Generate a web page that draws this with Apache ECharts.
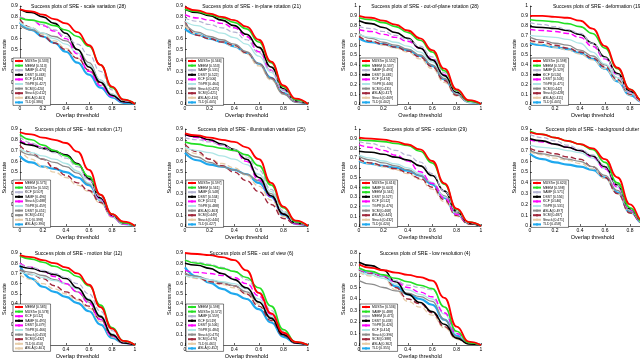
<!DOCTYPE html>
<html>
<head>
<meta charset="utf-8">
<script src="https://cdn.jsdelivr.net/npm/echarts@6/dist/echarts.min.js"></script>
<style>
  html, body { margin: 0; background: #fff; overflow: hidden; }
  #chart { width: 660px; height: 360px; }
</style>
</head>
<body>
<div id="chart"></div>
<script>
// overlap thresholds the success rates were sampled at
const thresholds = [0, 0.1, 0.2, 0.3, 0.4, 0.5, 0.6, 0.7, 0.8, 0.9, 1];
const xTicks = ["0", "0.2", "0.4", "0.6", "0.8", "1"];

const titles = [
  "Success plots of SRE - scale variation (28)",
  "Success plots of SRE - in-plane rotation (21)",
  "Success plots of SRE - out-of-plane rotation (28)",
  "Success plots of SRE - deformation (19)",
  "Success plots of SRE - fast motion (17)",
  "Success plots of SRE - illumination variation (25)",
  "Success plots of SRE - occlusion (29)",
  "Success plots of SRE - background clutter (21)",
  "Success plots of SRE - motion blur (12)",
  "Success plots of SRE - out of view (6)",
  "Success plots of SRE - low resolution (4)"
];
const yMaxes = [0.9, 0.9, 1, 1, 0.9, 0.9, 1, 0.9, 0.9, 0.9, 0.8];

// rows are in legend order (rank 1..10)
const scaleVariation = [
  [0.87, 0.85, 0.82, 0.78, 0.74, 0.66, 0.54, 0.36, 0.16, 0.04, 0],
  [0.79, 0.77, 0.75, 0.72, 0.68, 0.62, 0.53, 0.36, 0.15, 0.04, 0],
  [0.80, 0.77, 0.73, 0.68, 0.62, 0.55, 0.45, 0.30, 0.13, 0.03, 0],
  [0.87, 0.84, 0.80, 0.74, 0.65, 0.50, 0.34, 0.20, 0.08, 0.02, 0],
  [0.80, 0.77, 0.72, 0.67, 0.60, 0.46, 0.30, 0.17, 0.07, 0.02, 0],
  [0.75, 0.70, 0.65, 0.60, 0.55, 0.47, 0.36, 0.22, 0.09, 0.02, 0],
  [0.72, 0.68, 0.65, 0.62, 0.58, 0.50, 0.38, 0.22, 0.09, 0.02, 0],
  [0.78, 0.70, 0.62, 0.56, 0.50, 0.42, 0.31, 0.19, 0.08, 0.02, 0],
  [0.76, 0.70, 0.64, 0.58, 0.51, 0.42, 0.31, 0.18, 0.07, 0.02, 0],
  [0.75, 0.68, 0.62, 0.56, 0.48, 0.38, 0.27, 0.15, 0.06, 0.01, 0]
];
const inPlaneRotation = [
  [0.89, 0.86, 0.83, 0.80, 0.77, 0.71, 0.59, 0.39, 0.17, 0.05, 0],
  [0.87, 0.85, 0.82, 0.79, 0.75, 0.69, 0.57, 0.38, 0.16, 0.04, 0],
  [0.79, 0.76, 0.73, 0.70, 0.66, 0.59, 0.47, 0.31, 0.13, 0.03, 0],
  [0.87, 0.84, 0.81, 0.77, 0.72, 0.64, 0.52, 0.34, 0.14, 0.03, 0],
  [0.82, 0.79, 0.77, 0.74, 0.70, 0.62, 0.48, 0.31, 0.13, 0.03, 0],
  [0.76, 0.72, 0.68, 0.65, 0.61, 0.55, 0.44, 0.29, 0.12, 0.03, 0],
  [0.74, 0.66, 0.62, 0.59, 0.55, 0.48, 0.37, 0.23, 0.09, 0.02, 0],
  [0.76, 0.63, 0.60, 0.57, 0.54, 0.47, 0.37, 0.24, 0.10, 0.02, 0],
  [0.72, 0.64, 0.60, 0.57, 0.53, 0.46, 0.35, 0.22, 0.09, 0.02, 0],
  [0.69, 0.64, 0.60, 0.57, 0.53, 0.47, 0.37, 0.24, 0.10, 0.02, 0]
];
const outOfPlaneRotation = [
  [0.90, 0.88, 0.85, 0.81, 0.75, 0.67, 0.55, 0.36, 0.15, 0.04, 0],
  [0.88, 0.86, 0.83, 0.79, 0.73, 0.65, 0.53, 0.34, 0.14, 0.03, 0],
  [0.79, 0.77, 0.74, 0.70, 0.66, 0.59, 0.48, 0.32, 0.13, 0.03, 0],
  [0.85, 0.82, 0.78, 0.73, 0.67, 0.57, 0.45, 0.29, 0.12, 0.03, 0],
  [0.76, 0.74, 0.71, 0.68, 0.64, 0.57, 0.46, 0.30, 0.12, 0.03, 0],
  [0.71, 0.68, 0.66, 0.63, 0.59, 0.53, 0.43, 0.28, 0.11, 0.02, 0],
  [0.72, 0.67, 0.63, 0.60, 0.56, 0.50, 0.40, 0.26, 0.10, 0.02, 0],
  [0.69, 0.64, 0.61, 0.58, 0.54, 0.48, 0.38, 0.24, 0.09, 0.02, 0],
  [0.70, 0.64, 0.60, 0.57, 0.53, 0.46, 0.36, 0.22, 0.08, 0.02, 0],
  [0.67, 0.63, 0.61, 0.58, 0.55, 0.49, 0.39, 0.25, 0.10, 0.02, 0]
];
const deformation = [
  [0.90, 0.90, 0.89, 0.88, 0.85, 0.77, 0.59, 0.37, 0.15, 0.03, 0],
  [0.86, 0.85, 0.84, 0.82, 0.79, 0.72, 0.57, 0.36, 0.15, 0.03, 0],
  [0.83, 0.81, 0.79, 0.76, 0.72, 0.62, 0.47, 0.30, 0.12, 0.02, 0],
  [0.79, 0.78, 0.77, 0.75, 0.71, 0.62, 0.48, 0.31, 0.13, 0.03, 0],
  [0.76, 0.75, 0.74, 0.72, 0.68, 0.59, 0.46, 0.30, 0.12, 0.02, 0],
  [0.70, 0.69, 0.68, 0.66, 0.62, 0.53, 0.41, 0.27, 0.11, 0.02, 0],
  [0.68, 0.65, 0.62, 0.60, 0.55, 0.49, 0.40, 0.27, 0.11, 0.02, 0],
  [0.65, 0.63, 0.60, 0.57, 0.53, 0.47, 0.38, 0.25, 0.10, 0.02, 0],
  [0.64, 0.61, 0.58, 0.55, 0.51, 0.45, 0.36, 0.23, 0.09, 0.02, 0],
  [0.62, 0.60, 0.58, 0.56, 0.52, 0.46, 0.36, 0.23, 0.09, 0.02, 0]
];
const fastMotion = [
  [0.87, 0.85, 0.82, 0.80, 0.77, 0.69, 0.52, 0.29, 0.11, 0.04, 0],
  [0.85, 0.80, 0.75, 0.70, 0.65, 0.57, 0.46, 0.29, 0.11, 0.03, 0],
  [0.83, 0.77, 0.72, 0.68, 0.63, 0.55, 0.43, 0.27, 0.10, 0.03, 0],
  [0.78, 0.75, 0.72, 0.69, 0.66, 0.58, 0.44, 0.26, 0.10, 0.03, 0],
  [0.79, 0.76, 0.73, 0.70, 0.66, 0.57, 0.43, 0.25, 0.09, 0.02, 0],
  [0.72, 0.68, 0.65, 0.62, 0.58, 0.51, 0.40, 0.24, 0.09, 0.02, 0],
  [0.70, 0.66, 0.62, 0.59, 0.55, 0.49, 0.39, 0.24, 0.09, 0.02, 0],
  [0.75, 0.68, 0.62, 0.54, 0.47, 0.40, 0.33, 0.22, 0.09, 0.02, 0],
  [0.72, 0.62, 0.55, 0.50, 0.45, 0.38, 0.32, 0.21, 0.08, 0.02, 0],
  [0.65, 0.59, 0.55, 0.53, 0.50, 0.45, 0.38, 0.24, 0.09, 0.02, 0]
];
const illumination = [
  [0.86, 0.84, 0.82, 0.80, 0.78, 0.73, 0.62, 0.40, 0.18, 0.05, 0],
  [0.78, 0.76, 0.74, 0.72, 0.70, 0.66, 0.56, 0.38, 0.17, 0.04, 0],
  [0.82, 0.80, 0.78, 0.75, 0.71, 0.64, 0.52, 0.34, 0.14, 0.03, 0],
  [0.85, 0.83, 0.80, 0.76, 0.71, 0.62, 0.45, 0.28, 0.11, 0.03, 0],
  [0.85, 0.82, 0.79, 0.75, 0.70, 0.60, 0.43, 0.27, 0.11, 0.02, 0],
  [0.73, 0.70, 0.68, 0.65, 0.62, 0.57, 0.48, 0.32, 0.13, 0.03, 0],
  [0.70, 0.64, 0.59, 0.55, 0.52, 0.48, 0.42, 0.30, 0.12, 0.03, 0],
  [0.76, 0.69, 0.62, 0.56, 0.50, 0.42, 0.32, 0.20, 0.07, 0.02, 0],
  [0.72, 0.67, 0.62, 0.58, 0.54, 0.47, 0.37, 0.24, 0.09, 0.02, 0],
  [0.68, 0.61, 0.57, 0.55, 0.52, 0.48, 0.40, 0.27, 0.10, 0.02, 0]
];
const occlusion = [
  [0.91, 0.90, 0.89, 0.87, 0.84, 0.79, 0.67, 0.44, 0.18, 0.04, 0],
  [0.89, 0.88, 0.87, 0.85, 0.83, 0.77, 0.65, 0.43, 0.17, 0.04, 0],
  [0.87, 0.85, 0.82, 0.78, 0.73, 0.66, 0.54, 0.36, 0.15, 0.03, 0],
  [0.77, 0.76, 0.74, 0.71, 0.68, 0.62, 0.52, 0.36, 0.15, 0.03, 0],
  [0.84, 0.81, 0.78, 0.73, 0.67, 0.56, 0.44, 0.29, 0.12, 0.03, 0],
  [0.73, 0.70, 0.67, 0.64, 0.60, 0.54, 0.45, 0.30, 0.12, 0.03, 0],
  [0.72, 0.68, 0.65, 0.62, 0.58, 0.52, 0.44, 0.31, 0.13, 0.03, 0],
  [0.69, 0.65, 0.62, 0.59, 0.55, 0.49, 0.40, 0.27, 0.11, 0.02, 0],
  [0.68, 0.64, 0.61, 0.58, 0.54, 0.48, 0.38, 0.25, 0.10, 0.02, 0],
  [0.67, 0.64, 0.62, 0.60, 0.57, 0.52, 0.43, 0.29, 0.12, 0.03, 0]
];
const backgroundClutter = [
  [0.87, 0.85, 0.82, 0.79, 0.76, 0.72, 0.62, 0.45, 0.20, 0.05, 0],
  [0.88, 0.85, 0.82, 0.79, 0.76, 0.71, 0.59, 0.40, 0.17, 0.04, 0],
  [0.85, 0.82, 0.79, 0.75, 0.71, 0.66, 0.56, 0.38, 0.16, 0.04, 0],
  [0.81, 0.79, 0.76, 0.73, 0.70, 0.65, 0.55, 0.38, 0.16, 0.04, 0],
  [0.80, 0.78, 0.76, 0.73, 0.70, 0.64, 0.53, 0.36, 0.15, 0.03, 0],
  [0.75, 0.73, 0.72, 0.70, 0.68, 0.63, 0.53, 0.36, 0.15, 0.03, 0],
  [0.70, 0.67, 0.65, 0.62, 0.60, 0.55, 0.47, 0.33, 0.14, 0.03, 0],
  [0.72, 0.69, 0.67, 0.64, 0.62, 0.55, 0.45, 0.30, 0.12, 0.03, 0],
  [0.69, 0.66, 0.63, 0.61, 0.58, 0.53, 0.44, 0.30, 0.12, 0.03, 0],
  [0.67, 0.62, 0.59, 0.57, 0.55, 0.52, 0.45, 0.31, 0.13, 0.03, 0]
];
const motionBlur = [
  [0.88, 0.86, 0.83, 0.80, 0.76, 0.70, 0.59, 0.37, 0.16, 0.04, 0],
  [0.87, 0.84, 0.81, 0.77, 0.73, 0.67, 0.58, 0.39, 0.17, 0.04, 0],
  [0.79, 0.76, 0.73, 0.70, 0.66, 0.60, 0.50, 0.33, 0.14, 0.03, 0],
  [0.77, 0.75, 0.72, 0.69, 0.65, 0.56, 0.44, 0.28, 0.10, 0.02, 0],
  [0.80, 0.76, 0.72, 0.67, 0.60, 0.52, 0.41, 0.25, 0.09, 0.02, 0],
  [0.72, 0.69, 0.66, 0.63, 0.60, 0.55, 0.45, 0.29, 0.11, 0.02, 0],
  [0.74, 0.71, 0.68, 0.64, 0.60, 0.52, 0.42, 0.27, 0.10, 0.02, 0],
  [0.73, 0.69, 0.65, 0.58, 0.52, 0.45, 0.38, 0.25, 0.09, 0.02, 0],
  [0.69, 0.64, 0.60, 0.55, 0.50, 0.44, 0.36, 0.23, 0.08, 0.02, 0],
  [0.78, 0.65, 0.57, 0.52, 0.47, 0.41, 0.33, 0.20, 0.07, 0.02, 0]
];
const outOfView = [
  [0.90, 0.89, 0.88, 0.86, 0.83, 0.73, 0.51, 0.31, 0.12, 0.03, 0],
  [0.83, 0.80, 0.78, 0.75, 0.72, 0.66, 0.56, 0.38, 0.15, 0.03, 0],
  [0.83, 0.81, 0.79, 0.76, 0.72, 0.64, 0.52, 0.34, 0.13, 0.03, 0],
  [0.80, 0.78, 0.75, 0.70, 0.64, 0.56, 0.42, 0.26, 0.10, 0.02, 0],
  [0.73, 0.71, 0.70, 0.68, 0.66, 0.60, 0.48, 0.30, 0.11, 0.02, 0],
  [0.68, 0.66, 0.64, 0.62, 0.60, 0.55, 0.45, 0.29, 0.11, 0.02, 0],
  [0.70, 0.67, 0.64, 0.61, 0.58, 0.52, 0.42, 0.27, 0.10, 0.02, 0],
  [0.70, 0.66, 0.62, 0.60, 0.58, 0.50, 0.38, 0.24, 0.09, 0.02, 0],
  [0.68, 0.65, 0.62, 0.59, 0.56, 0.50, 0.40, 0.26, 0.10, 0.02, 0],
  [0.76, 0.67, 0.61, 0.55, 0.50, 0.45, 0.35, 0.22, 0.08, 0.02, 0]
];
const lowResolution = [
  [0.70, 0.67, 0.65, 0.63, 0.61, 0.59, 0.56, 0.41, 0.16, 0.03, 0],
  [0.67, 0.64, 0.61, 0.58, 0.55, 0.52, 0.49, 0.33, 0.12, 0.02, 0],
  [0.66, 0.63, 0.60, 0.56, 0.52, 0.50, 0.48, 0.33, 0.12, 0.02, 0],
  [0.72, 0.69, 0.65, 0.55, 0.44, 0.37, 0.29, 0.18, 0.06, 0.01, 0],
  [0.66, 0.63, 0.60, 0.55, 0.50, 0.46, 0.42, 0.28, 0.10, 0.02, 0],
  [0.64, 0.61, 0.58, 0.53, 0.48, 0.44, 0.40, 0.27, 0.10, 0.02, 0],
  [0.56, 0.53, 0.50, 0.47, 0.45, 0.42, 0.38, 0.22, 0.07, 0.01, 0],
  [0.65, 0.62, 0.60, 0.50, 0.40, 0.36, 0.28, 0.16, 0.06, 0.01, 0],
  [0.63, 0.60, 0.58, 0.48, 0.38, 0.33, 0.26, 0.15, 0.05, 0.01, 0],
  [0.66, 0.63, 0.60, 0.51, 0.44, 0.40, 0.35, 0.22, 0.08, 0.02, 0]
];

// legend entries (tracker [AUC]) per subplot, in rank order
const namesSV = ["MUSTer [0.533]", "MEEM [0.513]", "SAMF [0.470]", "DSST [0.463]", "KCF [0.430]", "TGPR [0.427]", "SCM [0.420]", "Struck [0.412]", "ASLA [0.401]", "TLD [0.380]"];
const namesIPR = ["MUSTer [0.566]", "MEEM [0.553]", "SAMF [0.531]", "DSST [0.522]", "KCF [0.506]", "TGPR [0.464]", "Struck [0.425]", "SCM [0.421]", "ASLA [0.410]", "TLD [0.405]"];
const namesOPR = ["MUSTer [0.552]", "MEEM [0.537]", "SAMF [0.493]", "DSST [0.481]", "KCF [0.474]", "TGPR [0.446]", "SCM [0.431]", "ASLA [0.417]", "Struck [0.409]", "TLD [0.402]"];
const namesDEF = ["MUSTer [0.598]", "MEEM [0.574]", "SAMF [0.529]", "KCF [0.520]", "DSST [0.503]", "TGPR [0.471]", "SCM [0.442]", "Struck [0.428]", "ASLA [0.411]", "TLD [0.405]"];
const namesFM = ["MEEM [0.575]", "MUSTer [0.532]", "KCF [0.507]", "SAMF [0.496]", "Struck [0.488]", "TGPR [0.459]", "DSST [0.451]", "SCM [0.431]", "TLD [0.398]", "ASLA [0.390]"];
const namesIV = ["MUSTer [0.597]", "MEEM [0.561]", "SAMF [0.548]", "DSST [0.534]", "KCF [0.521]", "TGPR [0.488]", "ASLA [0.463]", "SCM [0.449]", "Struck [0.440]", "TLD [0.427]"];
const namesOCC = ["MUSTer [0.616]", "SAMF [0.603]", "MEEM [0.561]", "DSST [0.527]", "KCF [0.512]", "TGPR [0.476]", "SCM [0.468]", "ASLA [0.445]", "Struck [0.432]", "TLD [0.420]"];
const namesBC = ["MUSTer [0.620]", "MEEM [0.598]", "SAMF [0.571]", "DSST [0.556]", "KCF [0.546]", "TGPR [0.531]", "ASLA [0.497]", "SCM [0.487]", "Struck [0.471]", "TLD [0.458]"];
const namesMB = ["MEEM [0.585]", "MUSTer [0.578]", "KCF [0.512]", "SAMF [0.495]", "DSST [0.479]", "TGPR [0.466]", "Struck [0.453]", "SCM [0.432]", "TLD [0.410]", "ASLA [0.401]"];
const namesOV = ["MEEM [0.598]", "MUSTer [0.572]", "SAMF [0.559]", "KCF [0.519]", "DSST [0.506]", "TGPR [0.484]", "Struck [0.475]", "SCM [0.470]", "TLD [0.461]", "ASLA [0.452]"];
const namesLR = ["MUSTer [0.536]", "SAMF [0.488]", "MEEM [0.475]", "DSST [0.433]", "TGPR [0.426]", "KCF [0.414]", "Struck [0.396]", "SCM [0.388]", "ASLA [0.362]", "TLD [0.355]"];

const plots = [scaleVariation, inPlaneRotation, outOfPlaneRotation, deformation, fastMotion,
  illumination, occlusion, backgroundClutter, motionBlur, outOfView, lowResolution];
const plotNames = [namesSV, namesIPR, namesOPR, namesDEF, namesFM, namesIV, namesOCC,
  namesBC, namesMB, namesOV, namesLR];

// line style by rank, like the benchmark toolkit
const rankStyles = [
  { color: "#ff0000", width: 1.8, type: "solid" },
  { color: "#22e022", width: 1.6, type: "solid" },
  { color: "#b4b4d2", width: 1.2, type: "dashed" },
  { color: "#000000", width: 1.6, type: "solid" },
  { color: "#ff00ff", width: 1.4, type: "dashed" },
  { color: "#aee6e6", width: 1.3, type: "solid" },
  { color: "#8c8c8c", width: 1.3, type: "solid" },
  { color: "#a0283c", width: 1.4, type: "dashed" },
  { color: "#e6cca8", width: 1.3, type: "dashed" },
  { color: "#1ea8ee", width: 2.2, type: "solid" }
];

const colLeft = [12, 185, 359, 530];
const colWidth = [123, 123, 122, 125];
const rowTop = [6, 129, 253];
const rowHeight = [98, 97, 97];

const font = "Liberation Sans";
const grids = [], xAxes = [], yAxes = [], series = [], legends = [], titleList = [];

plots.forEach((curves, p) => {
  const r = Math.floor(p / 4), c = p % 4;
  const left = colLeft[c], top = rowTop[r], w = colWidth[c], h = rowHeight[r];
  grids.push({ left: left, top: top, width: w, height: h, containLabel: false });
  xAxes.push({
    gridIndex: p, type: "value", min: 0, max: 1, interval: 0.2,
    name: "Overlap threshold", nameLocation: "middle", nameGap: 8,
    nameTextStyle: { fontSize: 5.5, fontFamily: font, color: "#000" },
    axisLine: { lineStyle: { color: "#000", width: 0.6 } },
    axisTick: { inside: true, length: 2, lineStyle: { color: "#000", width: 0.6 } },
    axisLabel: { fontSize: 5, margin: 2, fontFamily: font, color: "#000",
      formatter: v => xTicks[Math.round(v / 0.2)] },
    splitLine: { show: false }
  });
  yAxes.push({
    gridIndex: p, type: "value", min: 0, max: yMaxes[p], interval: 0.1,
    name: "Success rate", nameLocation: "middle", nameGap: 8,
    nameTextStyle: { fontSize: 5.5, fontFamily: font, color: "#000" },
    axisLine: { show: true, lineStyle: { color: "#000", width: 0.6 } },
    axisTick: { show: true, inside: true, length: 2, lineStyle: { color: "#000", width: 0.6 } },
    axisLabel: { fontSize: 5, margin: 2, fontFamily: font, color: "#000",
      formatter: v => String(Math.round(v * 10) / 10) },
    splitLine: { show: false }
  });
  titleList.push({
    text: titles[p], left: left + w / 2, top: top - 7, textAlign: "center",
    textStyle: { fontSize: 5, fontWeight: "normal", fontFamily: font, color: "#000" }
  });
  legends.push({
    data: plotNames[p], orient: "vertical", left: left + 1, top: top + h - 46,
    itemWidth: 8, itemHeight: 3, itemGap: 0.6, padding: [1, 2, 1, 1],
    borderColor: "#000", borderWidth: 0.5, backgroundColor: "#fff",
    selectedMode: false,
    textStyle: { fontSize: 3.4, lineHeight: 4, fontFamily: font, color: "#000", padding: [0, 0, 0, -3] }
  });
  // draw the last-ranked first so the leaders sit on top
  for (let k = curves.length - 1; k >= 0; k--) {
    const s = rankStyles[k];
    series.push({
      type: "line", name: plotNames[p][k], xAxisIndex: p, yAxisIndex: p,
      data: thresholds.map((t, i) => [t, curves[k][i]]),
      smooth: 0.5, smoothMonotone: "x", symbol: "none", showSymbol: false,
      color: s.color,
      lineStyle: { color: s.color, width: s.width, type: s.type },
      silent: true, animation: false
    });
  }
});

const chart = echarts.init(document.getElementById("chart"), null, { renderer: "canvas" });
chart.setOption({
  backgroundColor: "#fff",
  animation: false,
  title: titleList,
  legend: legends,
  grid: grids,
  xAxis: xAxes,
  yAxis: yAxes,
  series: series
});
</script>
</body>
</html>
